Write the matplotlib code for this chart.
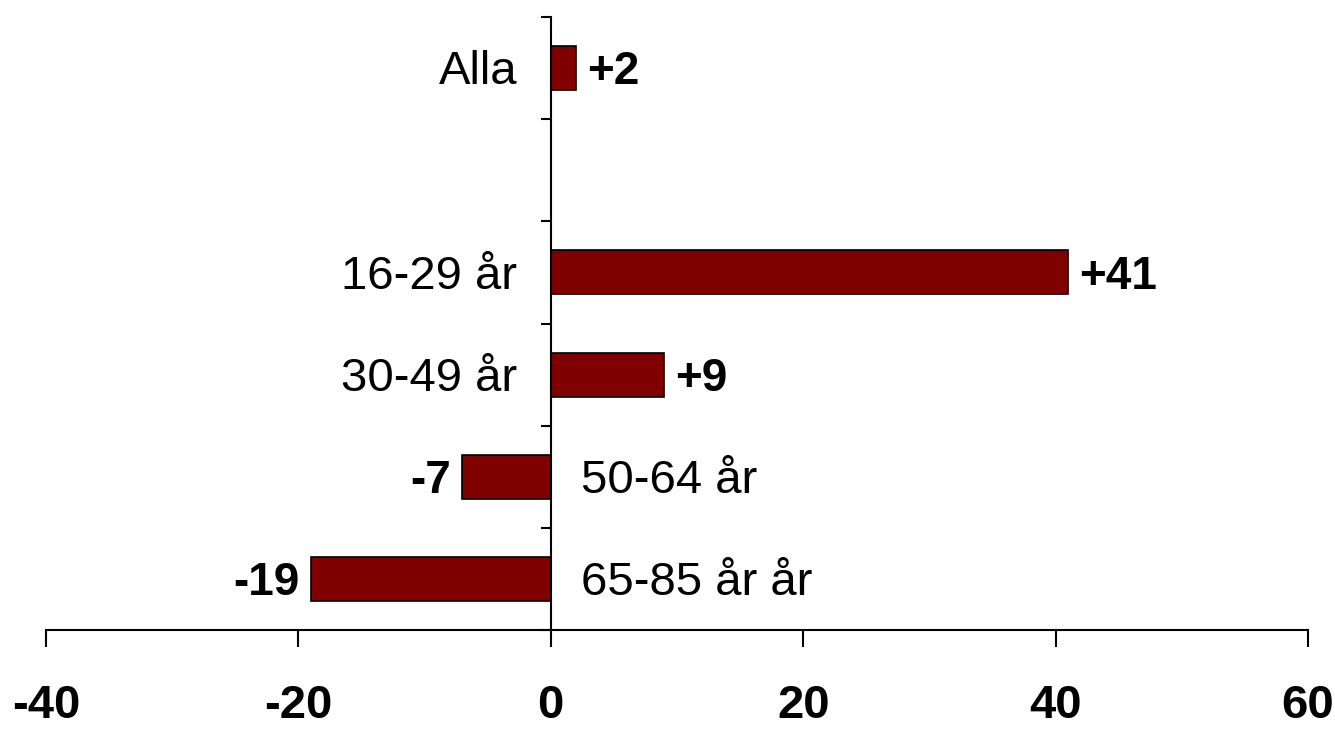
import matplotlib
matplotlib.use("Agg")
import matplotlib.pyplot as plt

plt.rcParams['font.family'] = ['Liberation Sans', 'DejaVu Sans']

# data
categories = ["Alla", "", "16-29 år", "30-49 år", "50-64 år", "65-85 år år"]
values = [2, None, 41, 9, -7, -19]
value_labels = ["+2", "", "+41", "+9", "-7", "-19"]
xticks = [-40, -20, 0, 20, 40, 60]

fig = plt.figure(figsize=(13.35, 7.31), dpi=100)
ax = fig.add_axes([46/1335, 1-630/731, (1308-46)/1335, (630-17)/731])

pos = list(range(len(categories)))
for i, v in enumerate(values):
    if v is None:
        continue
    ax.barh(i, v, height=0.43, color='#800000', edgecolor='black', linewidth=1.2)
    if v >= 0:
        ax.annotate(categories[i], (0, i), xytext=(-24, -3), textcoords='offset points',
                    ha='right', va='center', fontsize=34)
        ax.annotate(value_labels[i], (v, i), xytext=(8, -3), textcoords='offset points',
                    ha='left', va='center', fontsize=33, fontweight='bold')
    else:
        ax.annotate(categories[i], (0, i), xytext=(22, -3), textcoords='offset points',
                    ha='left', va='center', fontsize=34)
        ax.annotate(value_labels[i], (v, i), xytext=(-8, -3), textcoords='offset points',
                    ha='right', va='center', fontsize=33, fontweight='bold')

ax.set_xlim(-40, 60)
ax.set_ylim(len(categories) - 0.5, -0.5)
ax.set_xticks(xticks)
ax.set_xticklabels([str(t) for t in xticks], fontsize=34, fontweight='bold')
ax.set_yticks([p - 0.5 for p in pos] + [len(categories) - 0.5])
ax.set_yticklabels([])

ax.spines['top'].set_visible(False)
ax.spines['right'].set_visible(False)
ax.spines['left'].set_position(('data', 0))
ax.spines['left'].set_linewidth(1.5)
ax.spines['bottom'].set_linewidth(1.5)
ax.tick_params(axis='x', direction='out', length=12, width=1.5, pad=27)
ax.tick_params(axis='y', direction='out', length=7, width=1.5)

fig.savefig("out.png", dpi=100)
